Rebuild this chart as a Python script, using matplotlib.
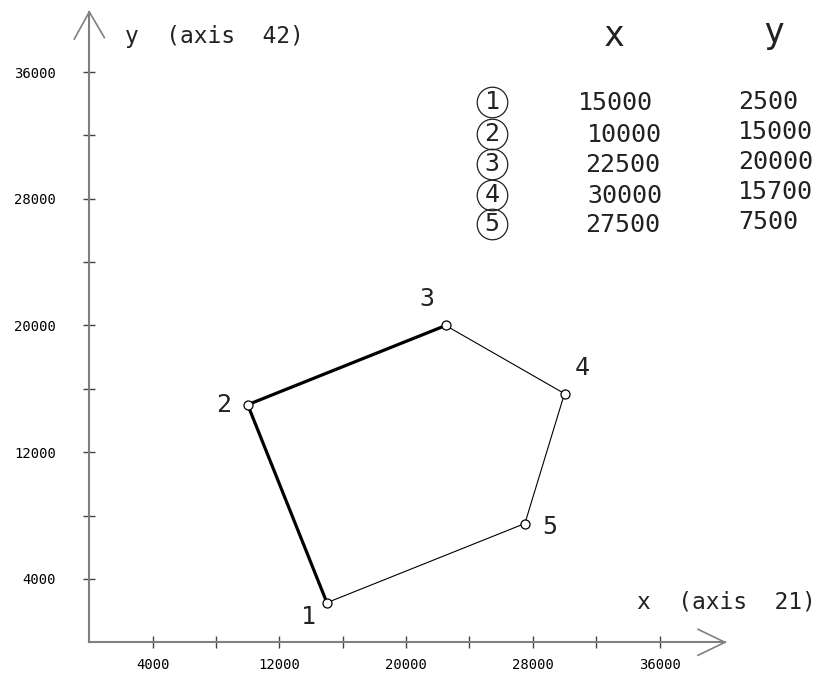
import matplotlib.pyplot as plt

# puntos del poligono
nombres = ["1", "2", "3", "4", "5"]
xs = [15000, 10000, 22500, 30000, 27500]
ys = [2500, 15000, 20000, 15700, 7500]
# textos de la tabla (como aparecen)
tabla_x = ["15000", "10000", "22500", "30000", "27500"]
tabla_y = ["2500", "15000", "20000", "15700", "7500"]
ticks_lab = [4000, 12000, 20000, 28000, 36000]
ticks_min = [8000, 16000, 24000, 32000]

esc = 0.01584  # px por unidad
ox, oy = 89.3, 642.3  # origen en px
W, H = 825, 674

mono = ["DejaVu Sans Mono", "DejaVu Sans"]
gris = "#808080"
tinta = "#222222"

fig = plt.figure(figsize=(W / 100, H / 100), dpi=100)
ax = fig.add_axes([0, 0, 1, 1])
ax.set_xlim(-ox / esc, (W - ox) / esc)
ax.set_ylim(-(H - oy) / esc, oy / esc)

for s in ["top", "right"]:
    ax.spines[s].set_visible(False)
ax.spines["left"].set_position(("data", 0))
ax.spines["bottom"].set_position(("data", 0))
ax.spines["left"].set_bounds(0, 39800)
ax.spines["bottom"].set_bounds(0, 40130)
for s in ["left", "bottom"]:
    ax.spines[s].set_color(gris)
    ax.spines[s].set_linewidth(1.5)

ax.set_xticks(ticks_lab)
ax.set_yticks(ticks_lab)
ax.set_xticks(ticks_min, minor=True)
ax.set_yticks(ticks_min, minor=True)
ax.set_xticklabels([str(t) for t in ticks_lab], family=mono, fontsize=10)
ax.set_yticklabels([str(t) for t in ticks_lab], family=mono, fontsize=10)
ax.tick_params(which="both", direction="inout", length=8, width=1, color="#444")
ax.tick_params(axis="x", which="major", pad=7)
ax.tick_params(axis="y", which="major", pad=20)

# flechas abiertas
ax.plot([38430, 40130, 38430], [820, 0, -820], color=gris, lw=1.2)
ax.plot([-950, 0, 950], [38080, 39800, 38180], color=gris, lw=1.2)

ax.text(125 / esc - ox / esc, (oy - 36) / esc, "y  (axis  42)", family=mono,
        fontsize=16.5, va="center", ha="left", color=tinta)
ax.text((637 - ox) / esc, (oy - 602) / esc, "x  (axis  21)", family=mono,
        fontsize=16.5, va="center", ha="left", color=tinta)

# poligono
ax.plot(xs[:3], ys[:3], color="black", lw=2.3, zorder=3)
ax.plot(xs[2:] + xs[:1], ys[2:] + ys[:1], color="black", lw=0.8, zorder=3)
ax.plot(xs, ys, "o", mfc="white", mec="black", ms=6.5, mew=0.9, zorder=4)

offs = [(-18, -14), (-24, 0), (-19, 26), (18, 26), (25, -4)]
for n, x, y, (dx, dy) in zip(nombres, xs, ys, offs):
    ax.text(x + dx / esc, y + dy / esc, n, family=mono, fontsize=18,
            ha="center", va="center", color=tinta)

# tabla
ax.text((614 - ox) / esc, (oy - 36) / esc, "x", family=mono, fontsize=25,
        ha="center", va="center", color=tinta)
ax.text((774 - ox) / esc, (oy - 33) / esc, "y", family=mono, fontsize=25,
        ha="center", va="center", color=tinta)
filas1 = [103, 135, 165, 196, 225]
filas2 = [102, 132, 162, 192, 222]
izq1 = [578, 587, 585, 587, 585]
for i in range(5):
    cx, cy = (492 - ox) / esc, (oy - filas1[i] + 1) / esc
    ax.plot([cx], [cy], "o", ms=22, mfc="none", mec=tinta, mew=0.9)
    ax.text(cx, cy, nombres[i], family=mono, fontsize=18,
            ha="center", va="center", color=tinta)
    ax.text((izq1[i] - ox) / esc, (oy - filas1[i]) / esc, tabla_x[i],
            family=mono, fontsize=18, ha="left", va="center", color=tinta)
    ax.text((738 - ox) / esc, (oy - filas2[i]) / esc, tabla_y[i],
            family=mono, fontsize=18, ha="left", va="center", color=tinta)

fig.savefig("out.png", dpi=100)
